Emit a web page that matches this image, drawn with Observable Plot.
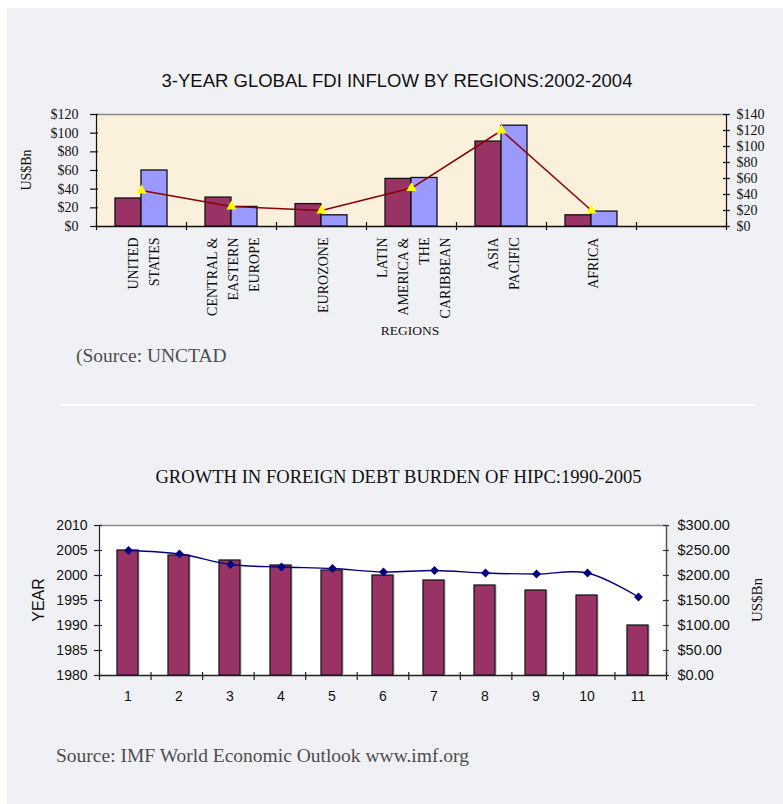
<!DOCTYPE html>
<html><head><meta charset="utf-8">
<script src="https://cdn.jsdelivr.net/npm/d3@7"></script>
<script src="https://cdn.jsdelivr.net/npm/@observablehq/plot@0.6"></script>
<style>
html,body{margin:0;padding:0;overflow:hidden;background:#fff;width:783px;height:804px;}
#page{position:absolute;left:7px;top:8px;width:776px;height:796px;background:#f0f1f5;}
.t{position:absolute;white-space:nowrap;line-height:1;}
.serif{font-family:"Liberation Serif","Times New Roman",serif;}
.sans{font-family:"Liberation Sans",Arial,sans-serif;}
.rot{transform:translate(-50%,-50%) rotate(-90deg);}
</style></head><body>
<div id="page"></div>
<script>
// ---------- Data: chart 1 (FDI inflow) ----------
const regions = ["UNITED\nSTATES", "CENTRAL &\nEASTERN\nEUROPE", "EUROZONE", "LATIN\nAMERICA &\nTHE\nCARIBBEAN", "ASIA\nPACIFIC", "AFRICA", ""];
const fdiSeries = ["series1", "series2"];
const fdiBar1 = [30, 31, 24, 51, 91, 12];
const fdiBar2 = [60, 21, 12, 52, 108, 16];
const fdiLine = [45, 25, 20, 48, 120, 20];
const fdiLeftTicks = [0, 20, 40, 60, 80, 100, 120];
const fdiRightTicks = [0, 20, 40, 60, 80, 100, 120, 140];

// ---------- Data: chart 2 (HIPC debt) ----------
const hipcIndex = [1, 2, 3, 4, 5, 6, 7, 8, 9, 10, 11];
const hipcYear = [2005, 2004, 2003, 2002, 2001, 2000, 1999, 1998, 1997, 1996, 1990];
const hipcDebt = [250, 243, 222, 217, 214, 207, 210, 205, 203, 205, 157];
const hipcYearTicks = [1980, 1985, 1990, 1995, 2000, 2005, 2010];
const hipcDebtTicks = [0, 50, 100, 150, 200, 250, 300];

const W = 783;
const SERIF = '"Liberation Serif","Times New Roman",serif';
const SANS = '"Liberation Sans",Arial,sans-serif';

function layer(top, height, m, font, opts) {
  const svg = Plot.plot({
    width: W, height,
    marginTop: m.t, marginRight: m.r, marginBottom: m.b, marginLeft: m.l,
    style: {background: "transparent", overflow: "visible", fontFamily: font, fontSize: "14px", color: "#111"},
    ...opts
  });
  svg.style.position = "absolute";
  svg.style.left = "0px";
  svg.style.top = top + "px";
  document.body.appendChild(svg);
}

// ===== Chart 1 =====
const TM = {t: 14, r: 57, b: 124, l: 96};
const T_TOP = 100, T_H = 250;
const nReg = regions.length;

// background, frame lines, left axis
layer(T_TOP, T_H, TM, SERIF, {
  x: {type: "linear", domain: [0, nReg], axis: null},
  y: {domain: [0, 120], axis: null},
  marks: [
    Plot.frame({fill: "#fbf0db", stroke: null}),
    Plot.ruleY([120], {stroke: "#8a8a8a", strokeWidth: 1.5}),
    Plot.ruleY([0], {stroke: "#111", strokeWidth: 1.5}),
    Plot.ruleX([0], {stroke: "#111", strokeWidth: 1.2}),
    Plot.ruleX([nReg], {stroke: "#111", strokeWidth: 1.2}),
    Plot.ruleX(d3.range(nReg + 1), {y1: 0, y2: 0, insetTop: -4, insetBottom: -4, stroke: "#111", strokeWidth: 1.2}),
    Plot.ruleY(fdiLeftTicks, {x1: 0, x2: 0, insetLeft: -6, insetRight: -2, stroke: "#111", strokeWidth: 1.2}),
    Plot.axisY(fdiLeftTicks, {anchor: "left", tickSize: 0, tickPadding: 18, tickFormat: d => "$" + d, label: null, fontSize: 14})
  ]
});

// grouped bars + region labels
const fdiRows = regions.slice(0, fdiBar1.length).flatMap((r, i) => [
  {region: r, series: fdiSeries[0], value: fdiBar1[i]},
  {region: r, series: fdiSeries[1], value: fdiBar2[i]}
]);
layer(T_TOP, T_H, TM, SERIF, {
  fx: {domain: regions, padding: 0, axis: null},
  x: {domain: fdiSeries, paddingInner: 0, paddingOuter: 0.7, axis: null},
  y: {domain: [0, 120], axis: null},
  color: {domain: fdiSeries, range: ["#993366", "#9999ff"]},
  marks: [
    Plot.barY(fdiRows, {fx: "region", x: "series", y: "value", fill: "series", stroke: "#111", strokeWidth: 1.3}),
    Plot.text(regions, {fx: d => d, text: d => d, frameAnchor: "bottom", rotate: -90, textAnchor: "end", lineAnchor: "middle", lineHeight: 1.5, dy: 11, fontSize: 14, fill: "#111"})
  ]
});

// line on secondary axis
const fdiLineRows = regions.slice(0, fdiLine.length).map((r, i) => ({region: r, value: fdiLine[i]}));
layer(T_TOP, T_H, TM, SERIF, {
  x: {type: "point", domain: regions, padding: 0.5, axis: null},
  y: {domain: [0, 140], axis: null},
  marks: [
    Plot.line(fdiLineRows, {x: "region", y: "value", stroke: "#8b0000", strokeWidth: 1.5}),
    Plot.dot(fdiLineRows, {x: "region", y: "value", symbol: "triangle", r: 3.8, fill: "#ffff00", stroke: null})
  ]
});

// right axis
layer(T_TOP, T_H, TM, SERIF, {
  x: {type: "linear", domain: [0, nReg], axis: null},
  y: {domain: [0, 140], axis: null},
  marks: [
    Plot.ruleY(fdiRightTicks, {x1: nReg, x2: nReg, insetLeft: -3, insetRight: -4, stroke: "#111", strokeWidth: 1.2}),
    Plot.axisY(fdiRightTicks, {anchor: "right", tickSize: 0, tickPadding: 10, tickFormat: d => "$" + d, label: null, fontSize: 14})
  ]
});

// ===== Chart 2 =====
const BM = {t: 20, r: 117, b: 45, l: 99};
const B_TOP = 505, B_H = 215;
const nIdx = hipcIndex.length;

layer(B_TOP, B_H, BM, SANS, {
  x: {type: "linear", domain: [0, nIdx], axis: null},
  y: {domain: [1980, 2010], axis: null},
  marks: [
    Plot.frame({fill: "#ffffff", stroke: null}),
    Plot.ruleY([2010], {stroke: "#8a8a8a", strokeWidth: 1.5}),
    Plot.ruleY([1980], {stroke: "#222", strokeWidth: 1.5}),
    Plot.ruleX([0], {stroke: "#222", strokeWidth: 1.2}),
    Plot.ruleX([nIdx], {stroke: "#555", strokeWidth: 1.5}),
    Plot.ruleX(d3.range(nIdx + 1), {y1: 1980, y2: 1980, insetTop: -3, insetBottom: -5, stroke: "#222", strokeWidth: 1.2}),
    Plot.ruleY(hipcYearTicks, {x1: 0, x2: 0, insetLeft: -5, insetRight: -3, stroke: "#222", strokeWidth: 1.2}),
    Plot.axisY(hipcYearTicks, {anchor: "left", tickSize: 0, tickPadding: 12, tickFormat: d => String(d), label: null, fontSize: 14})
  ]
});

const hipcRows = hipcIndex.map((k, i) => ({idx: k, year: hipcYear[i], debt: hipcDebt[i]}));
layer(B_TOP, B_H, BM, SANS, {
  x: {type: "band", domain: hipcIndex, paddingInner: 0.59, paddingOuter: 0.295, axis: null},
  y: {domain: [1980, 2010], axis: null},
  marks: [
    Plot.barY(hipcRows, {x: "idx", y1: 1980, y2: "year", fill: "#d8d8dc", dx: 2, stroke: null}),
    Plot.barY(hipcRows, {x: "idx", y1: 1980, y2: "year", fill: "#993366", stroke: "#1a1a1a", strokeWidth: 1.3}),
    Plot.axisX(hipcIndex, {anchor: "bottom", tickSize: 0, tickPadding: 16, label: null, fontSize: 14})
  ]
});

layer(B_TOP, B_H, BM, SANS, {
  x: {type: "point", domain: hipcIndex, padding: 0.5, axis: null},
  y: {domain: [0, 300], axis: null},
  marks: [
    Plot.line(hipcRows, {x: "idx", y: "debt", stroke: "#000080", strokeWidth: 1.4, curve: "catmull-rom"}),
    Plot.dot(hipcRows, {x: "idx", y: "debt", symbol: "diamond2", r: 4, fill: "#000080", stroke: null})
  ]
});

layer(B_TOP, B_H, BM, SANS, {
  x: {type: "linear", domain: [0, nIdx], axis: null},
  y: {domain: [0, 300], axis: null},
  marks: [
    Plot.ruleY(hipcDebtTicks, {x1: nIdx, x2: nIdx, insetLeft: -3, insetRight: -3, stroke: "#333", strokeWidth: 1.2}),
    Plot.axisY(hipcDebtTicks, {anchor: "right", tickSize: 0, tickPadding: 11, tickFormat: d => "$" + d.toFixed(2), label: null, fontSize: 14.5})
  ]
});

// ===== Text (titles, labels, sources) =====
function txt(html, cls, css) {
  const d = document.createElement("div");
  d.className = "t " + cls;
  d.textContent = html;
  Object.assign(d.style, css);
  document.body.appendChild(d);
}
txt("3-YEAR GLOBAL FDI INFLOW BY REGIONS:2002-2004", "sans", {left: "397px", top: "71.5px", fontSize: "18.5px", color: "#111", transform: "translateX(-50%)"});
txt("US$Bn", "serif rot", {left: "27px", top: "170px", fontSize: "14px", color: "#111"});
txt("REGIONS", "serif", {left: "410px", top: "324px", fontSize: "13.5px", color: "#111", transform: "translateX(-50%)"});
txt("(Source: UNCTAD", "serif", {left: "76px", top: "345.5px", fontSize: "19.5px", color: "#4d4d4d"});

const sep = document.createElement("div");
Object.assign(sep.style, {position: "absolute", left: "59px", top: "404px", width: "696px", height: "2px", background: "#ffffff"});
document.body.appendChild(sep);

txt("GROWTH IN FOREIGN DEBT BURDEN OF HIPC:1990-2005", "serif", {left: "398.5px", top: "467.5px", fontSize: "18.6px", color: "#111", transform: "translateX(-50%)"});
txt("YEAR", "sans rot", {left: "38.5px", top: "600px", fontSize: "16px", color: "#111"});
txt("US$Bn", "serif rot", {left: "757px", top: "600px", fontSize: "15px", color: "#111"});
txt("Source: IMF World Economic Outlook www.imf.org", "serif", {left: "56px", top: "746px", fontSize: "19.5px", color: "#4d4d4d"});
</script>
</body></html>
